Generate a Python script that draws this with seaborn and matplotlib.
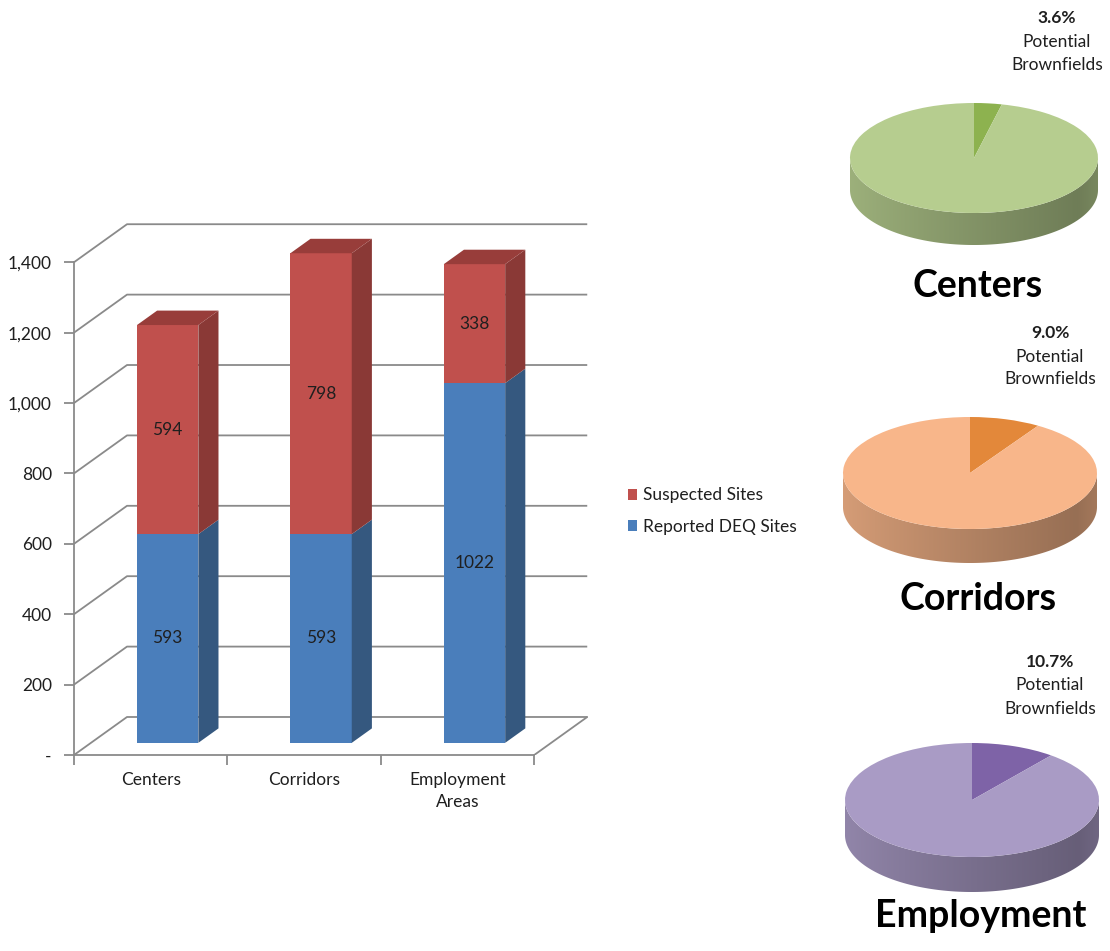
import numpy as np
import pandas as pd
import matplotlib
matplotlib.use("Agg")
import matplotlib.pyplot as plt
import seaborn as sns
from matplotlib.patches import Polygon, Patch
from matplotlib.transforms import Affine2D
from matplotlib.colors import to_rgb

# ---- data -------------------------------------------------------------
categories = ["Centers", "Corridors", "Employment\nAreas"]
reported_sites = [593, 593, 1022]
suspected_sites = [594, 798, 338]
series_names = ["Suspected Sites", "Reported DEQ Sites"]
y_ticks = [0, 200, 400, 600, 800, 1000, 1200, 1400]
y_tick_labels = ["-", "200", "400", "600", "800", "1,000", "1,200", "1,400"]

pie_titles = ["Centers", "Corridors", "Employment"]
brownfield_pct = [3.6, 9.0, 10.7]

# ---- styling ----------------------------------------------------------
sns.set_theme(style="white")
plt.rcParams["font.family"] = ["Lato", "DejaVu Sans"]

RED, RED_SIDE, RED_TOP = "#c0504d", "#8a3936", "#983d3a"
BLUE, BLUE_SIDE = "#4a7ebb", "#35587f"
GRID = "#8a8a8a"
TXT = "#1f1f1f"

pie_main = ["#b6cd8f", "#f8b68a", "#a99bc5"]
pie_slice = ["#8db24f", "#e3883a", "#7e63a7"]

W, H = 1110, 951
fig = plt.figure(figsize=(W / 100, H / 100), dpi=100)
fig.patch.set_facecolor("white")


def px_axes(left, top, right, bottom):
    return fig.add_axes([left / W, 1 - bottom / H, (right - left) / W, (bottom - top) / H])


def px_text(x, y, s, **kw):
    return fig.text(x / W, 1 - y / H, s, **kw)


# ---- stacked bar chart with a drawn depth -----------------------------
ax = px_axes(74, 220, 588, 755)
DX, DY = 0.3455, 108.0          # depth offset of the back wall (category / value units)
D0, D1 = 0.32, 0.70             # front and back depth of each bar
BW = 0.4                        # bar width

df = pd.DataFrame({
    "category": categories,
    "total": np.add(reported_sites, suspected_sites),
    "reported": reported_sites,
})
sns.barplot(data=df, x="category", y="total", color=RED, saturation=1,
            width=BW, ax=ax, zorder=3)
sns.barplot(data=df, x="category", y="reported", color=BLUE, saturation=1,
            width=BW, ax=ax, zorder=3)
shift = Affine2D().translate(D0 * DX, D0 * DY) + ax.transData
for p in ax.patches:
    p.set_transform(shift)
    p.set_linewidth(0)


def pt(x, y, d):
    return (x + d * DX, y + d * DY)


# back wall and floor gridlines
for v in y_ticks:
    xs, ys = zip(pt(-0.5, v, 0), pt(-0.5, v, 1), pt(2.5, v, 1))
    ax.plot(xs, ys, color=GRID, lw=1.3, zorder=1, solid_capstyle="butt")
xs, ys = zip(pt(2.5, 0, 0), pt(2.5, 0, 1))
ax.plot(xs, ys, color=GRID, lw=1.3, zorder=1)

# side and top faces of each bar
for i, (rep, sus) in enumerate(zip(reported_sites, suspected_sites)):
    xl, xr = i - BW / 2, i + BW / 2
    for y0, y1, col in [(0, rep, BLUE_SIDE), (rep, rep + sus, RED_SIDE)]:
        ax.add_patch(Polygon([pt(xr, y0, D0), pt(xr, y0, D1), pt(xr, y1, D1), pt(xr, y1, D0)],
                             closed=True, facecolor=col, edgecolor="none", zorder=3))
    top = rep + sus
    ax.add_patch(Polygon([pt(xl, top, D0), pt(xr, top, D0), pt(xr, top, D1), pt(xl, top, D1)],
                         closed=True, facecolor=RED_TOP, edgecolor="none", zorder=3))
    # value labels on the front faces
    cx = i + D0 * DX
    ax.text(cx, rep / 2 + D0 * DY, f"{rep}", ha="center", va="center",
            fontsize=12.5, color=TXT, zorder=5)
    ax.text(cx, rep + sus / 2 + D0 * DY, f"{sus}", ha="center", va="center",
            fontsize=12.5, color=TXT, zorder=5)

ax.set_xlim(-0.5, 2.5 + DX + 0.005)
ax.set_ylim(0, 1520)
ax.set_xlabel("")
ax.set_ylabel("")
ax.set_yticks(y_ticks, y_tick_labels)
ax.set_xticks(range(len(categories)), categories)
ax.set_xticks([-0.5, 0.5, 1.5, 2.5], minor=True)
ax.tick_params(axis="y", which="major", length=7, width=1.3, color=GRID, pad=9,
               labelsize=12.5, labelcolor=TXT, direction="out", left=True)
ax.tick_params(axis="x", which="major", length=0, pad=12, labelsize=12.5, labelcolor=TXT)
ax.tick_params(axis="x", which="minor", length=7, width=1.3, color=GRID,
               direction="out", bottom=True)
for lab in ax.get_xticklabels():
    lab.set_linespacing(1.45)
for side in ["top", "right"]:
    ax.spines[side].set_visible(False)
for side in ["left", "bottom"]:
    ax.spines[side].set_color(GRID)
    ax.spines[side].set_linewidth(1.3)
ax.spines["left"].set_bounds(0, 1400)
ax.spines["bottom"].set_bounds(-0.5, 2.5)
ax.set_facecolor("none")
ax.grid(False)

handles = [Patch(facecolor=RED, edgecolor="none"), Patch(facecolor=BLUE, edgecolor="none")]
fig.legend(handles, series_names, loc="center left", bbox_to_anchor=(612 / W, 1 - 511 / H),
           frameon=False, fontsize=12.5, handlelength=0.55, handleheight=0.6,
           handletextpad=0.35, labelspacing=0.9, labelcolor=TXT)

# ---- three tilted pies --------------------------------------------------
pie_geom = [  # centre x, centre y, x radius, y radius, thickness (pixels)
    (974, 158, 124, 55, 32),
    (970, 473, 127, 56, 34),
    (972, 800, 127, 57, 35),
]
pie_text_x = [1057, 1050, 1050]
pie_text_base = [(23, 47, 70), (338, 362, 384), (667, 690, 714)]
pie_title_base = [297, 610, 927]
pie_title_x = [978, 978, 981]

for k, (title, pct) in enumerate(zip(pie_titles, brownfield_pct)):
    cx, cy, rx, ry, th = pie_geom[k]
    pax = px_axes(cx - rx, cy - ry, cx + rx, cy + ry + th)
    pax.pie([pct, 100 - pct], colors=[pie_slice[k], pie_main[k]], startangle=90,
            counterclock=False, radius=1, wedgeprops=dict(linewidth=0))
    h = th / ry

    # rim: horizontal shading clipped to the front half of the cylinder wall
    t = np.linspace(np.pi, 2 * np.pi, 200)
    rim_pts = np.vstack([np.column_stack([np.cos(t), np.sin(t)]),
                         np.column_stack([np.cos(t[::-1]), np.sin(t[::-1]) - h])])
    rim = Polygon(rim_pts, closed=True, facecolor="none", edgecolor="none")
    pax.add_patch(rim)
    u = np.linspace(0, 1, 300)
    f = 0.86 - 0.27 * u ** 0.9 + 0.07 * np.clip((u - 0.92) / 0.08, 0, 1)
    base = np.array(to_rgb(pie_main[k]))
    shade = np.clip(f[:, None] * base[None, :], 0, 1)[None, :, :]
    img = pax.imshow(shade, extent=(-1, 1, -1 - h, 0.05), aspect="auto",
                     interpolation="bilinear", zorder=0.5)
    img.set_clip_path(rim)

    pax.set_aspect("auto")
    pax.set_xlim(-1, 1)
    pax.set_ylim(-1 - h, 1)
    pax.axis("off")

    b1, b2, b3 = pie_text_base[k]
    px_text(pie_text_x[k], b1, f"{pct:.1f}%", ha="center", va="baseline",
            fontsize=12.5, fontweight="bold", color=TXT)
    px_text(pie_text_x[k], b2, "Potential", ha="center", va="baseline",
            fontsize=12.5, color=TXT)
    px_text(pie_text_x[k], b3, "Brownfields", ha="center", va="baseline",
            fontsize=12.5, color=TXT)
    px_text(pie_title_x[k], pie_title_base[k], title, ha="center", va="baseline",
            fontsize=27, fontweight="bold", color="black")

fig.savefig("out.png", dpi=100, facecolor="white")
